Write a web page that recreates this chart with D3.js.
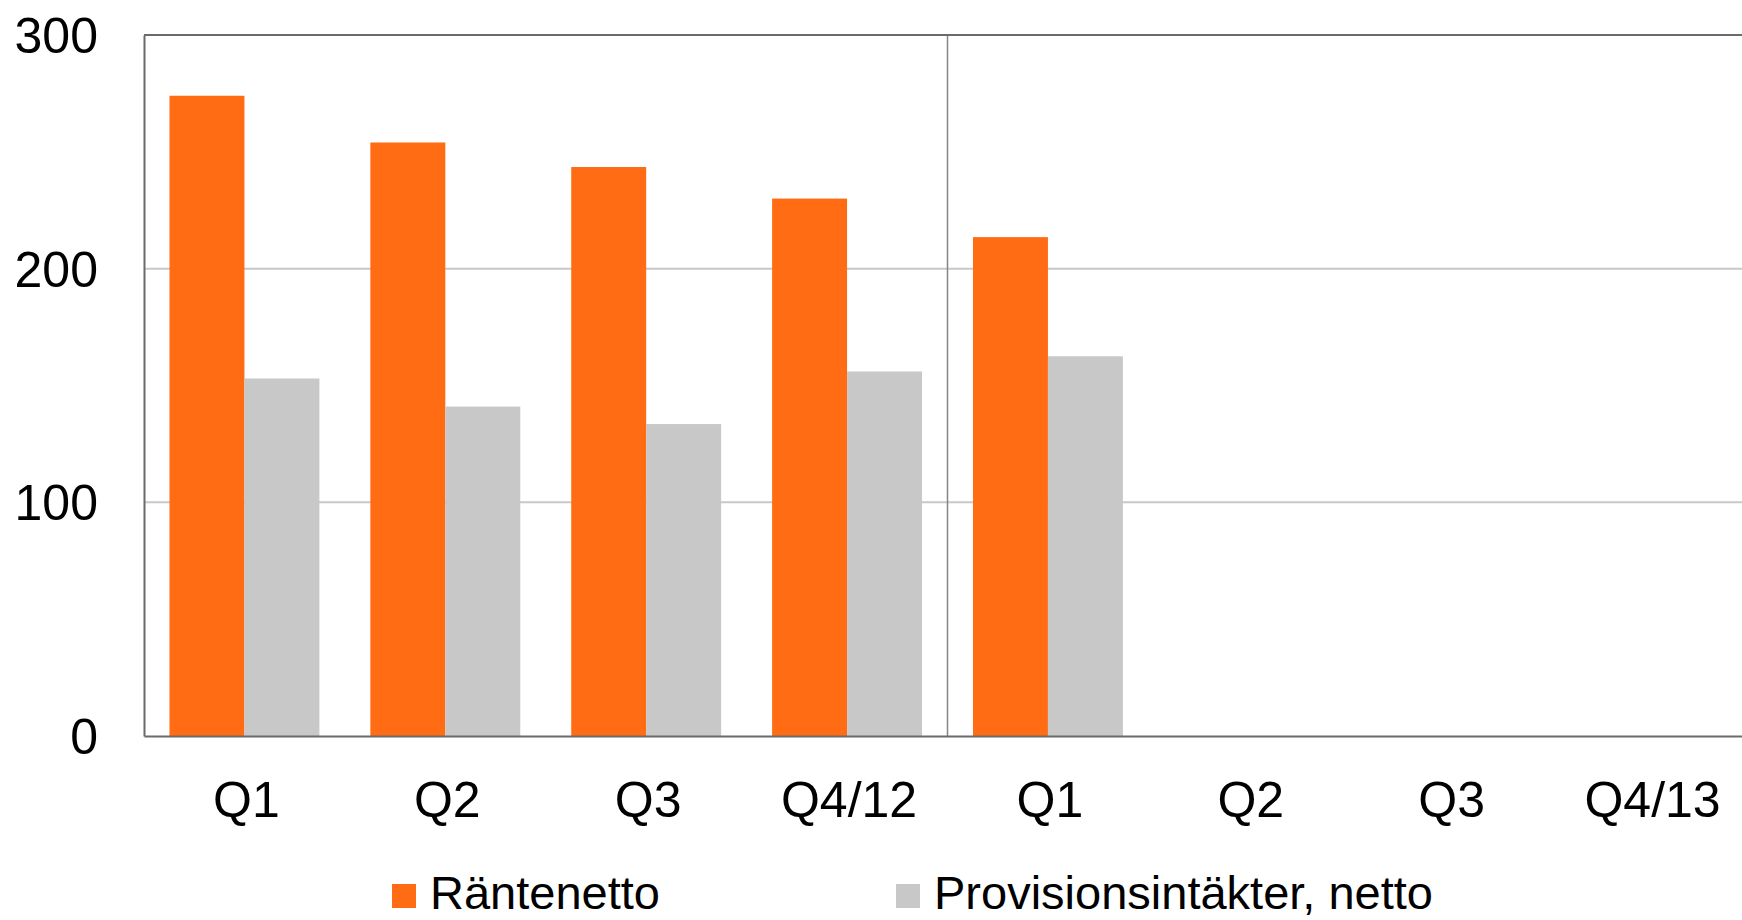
<!DOCTYPE html>
<html>
<head>
<meta charset="utf-8">
<script src="https://cdn.jsdelivr.net/npm/d3@7"></script>
<style>
  html, body { margin: 0; padding: 0; background: #ffffff; overflow: hidden; }
  svg { display: block; font-family: "Liberation Sans", Arial, sans-serif; }
</style>
</head>
<body>
<svg id="chart" width="1742" height="920"></svg>
<script>
const categories = ["Q1", "Q2", "Q3", "Q4/12", "Q1", "Q2", "Q3", "Q4/13"];
const seriesNames = ["Räntenetto", "Provisionsintäkter, netto"];
const rantenetto = [274, 254, 243.5, 230, 213.5, null, null, null];
const provision = [153, 141, 133.5, 156, 162.5, null, null, null];
const yTicks = [0, 100, 200, 300];
const colors = ["#FF6C13", "#C8C8C8"];

const svg = d3.select("#chart");
const margin = { left: 144, top: 35 };
const plotW = 1607, plotH = 701;

const g = svg.append("g").attr("transform", `translate(${margin.left},${margin.top})`);

const x0 = d3.scaleBand().domain(d3.range(categories.length)).range([0, plotW]).padding(0);
const x1 = d3.scaleBand().domain(seriesNames).range([0, x0.bandwidth()]).paddingInner(0).paddingOuter(0.34);
const y = d3.scaleLinear().domain([0, 300]).range([plotH, 0]);

// gridlines
g.append("g").selectAll("line").data(yTicks.filter(t => t > 0 && t < 300)).join("line")
  .attr("x1", 0).attr("x2", plotW)
  .attr("y1", d => y(d)).attr("y2", d => y(d))
  .attr("stroke", "#c8c8c8").attr("stroke-width", 2);

// divider between years
g.append("line")
  .attr("x1", x0(4)).attr("x2", x0(4))
  .attr("y1", 0).attr("y2", plotH)
  .attr("stroke", "#858585").attr("stroke-width", 1.5);

// bars
const seriesData = [rantenetto, provision];
seriesData.forEach((vals, si) => {
  g.append("g").selectAll("rect")
    .data(vals.map((v, i) => ({ v, i })).filter(d => d.v != null))
    .join("rect")
    .attr("x", d => x0(d.i) + x1(seriesNames[si]))
    .attr("width", x1.bandwidth())
    .attr("y", d => y(d.v))
    .attr("height", d => y(0) - y(d.v))
    .attr("fill", colors[si]);
});

// plot border (top, right)
g.append("line").attr("x1", 0).attr("x2", plotW).attr("y1", 0).attr("y2", 0)
  .attr("stroke", "#6b6b6b").attr("stroke-width", 2);
g.append("line").attr("x1", plotW).attr("x2", plotW).attr("y1", 0).attr("y2", plotH)
  .attr("stroke", "#6b6b6b").attr("stroke-width", 2);

// y axis
const yAxis = g.append("g").call(d3.axisLeft(y).tickValues(yTicks).tickSize(0).tickPadding(46));
yAxis.select(".domain").attr("stroke", "#6b6b6b").attr("stroke-width", 2);
yAxis.selectAll("text").attr("font-size", 50).attr("fill", "#000").attr("font-family", "Liberation Sans, Arial, sans-serif").attr("dy", "0.35em");

// x axis
const xAxis = g.append("g").attr("transform", `translate(0,${plotH})`)
  .call(d3.axisBottom(x0).tickFormat(i => categories[i]).tickSize(0).tickPadding(45));
xAxis.select(".domain").attr("stroke", "#6b6b6b").attr("stroke-width", 2);
xAxis.selectAll("text").attr("font-size", 50).attr("fill", "#000").attr("font-family", "Liberation Sans, Arial, sans-serif").attr("dy", "0.71em")
  .attr("dx", 2);

// legend
const legendX = [392, 896];
const legend = svg.append("g");
seriesNames.forEach((name, i) => {
  legend.append("rect").attr("x", legendX[i]).attr("y", 884).attr("width", 24).attr("height", 24).attr("fill", colors[i]);
  legend.append("text").attr("x", legendX[i] + 38).attr("y", 909)
    .attr("font-size", 47).attr("fill", "#000").text(name);
});
</script>
</body>
</html>
